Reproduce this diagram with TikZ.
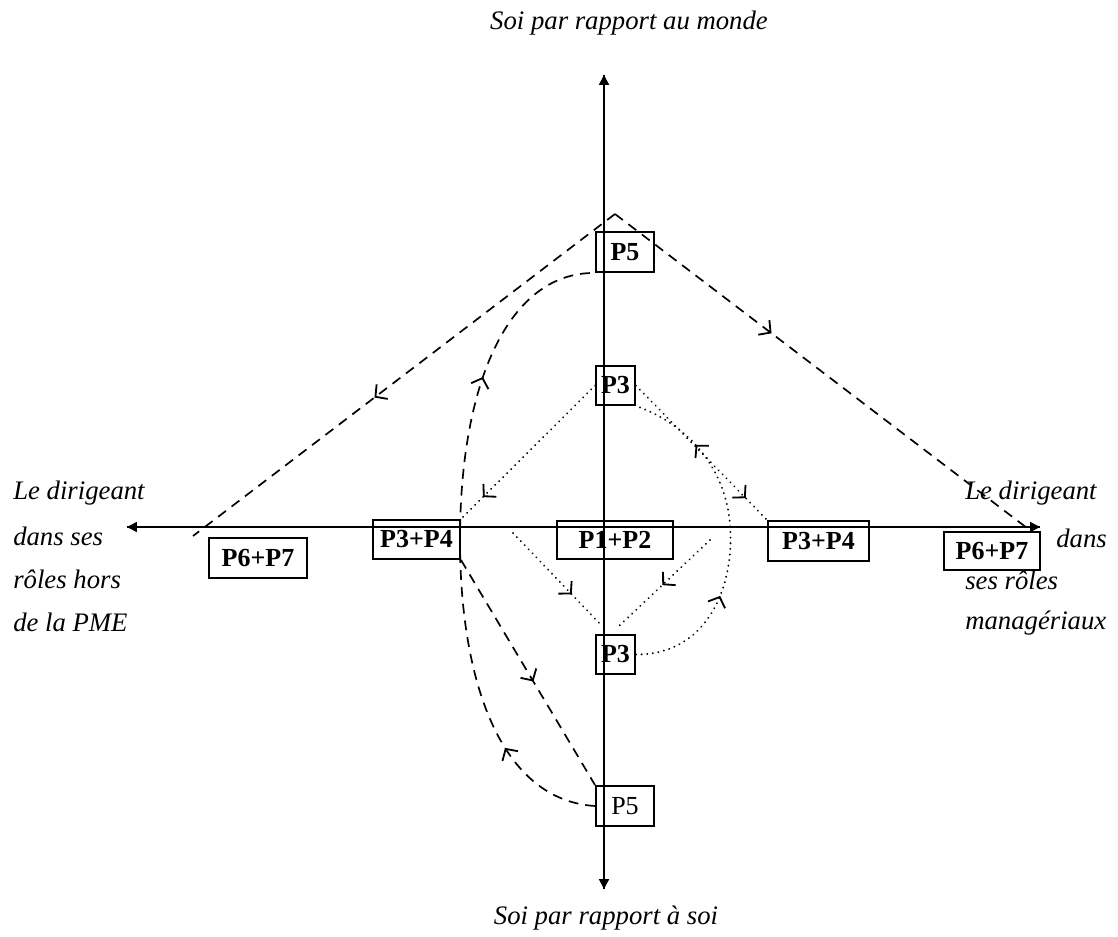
\documentclass[tikz,border=0pt]{standalone}
\usepackage{fontspec}
\setmainfont{Liberation Serif}
\usetikzlibrary{arrows.meta,decorations.markings,calc}
\begin{document}
\begin{tikzpicture}[x=0.025cm,y=-0.025cm,
  axis/.style={line width=1.4pt,-{Triangle[length=7pt,width=7pt]}},
  lbl/.style={font=\fontsize{19}{22}\selectfont\itshape,inner sep=0pt},
  box/.style={draw,line width=1.4pt,inner sep=0pt,font=\fontsize{18.5}{20}\selectfont\bfseries},
  boxr/.style={draw,line width=1.4pt,inner sep=0pt,font=\fontsize{18.5}{20}\selectfont},
  dsh/.style={line width=1.2pt,dash pattern=on 7pt off 5pt},
  dot/.style={line width=1.5pt,line cap=round,dash pattern=on 0.01pt off 4pt},
  tipmark/.style={postaction={decorate,decoration={markings,mark=at position #1 with {\arrow{Straight Barb[length=6pt,width=13pt,line width=1.3pt]}}}}}
]
\useasboundingbox (0,0) rectangle (1118,937);

% axis end points
\coordinate (vt) at (604,75);
\coordinate (vb) at (604,889);
\coordinate (hl) at (127,527);
\coordinate (hr) at (1040,527);

% labels
\node[lbl] (top) at (629,23) {Soi par rapport au monde};
\node[lbl] (bot) at (606,918) {Soi par rapport à soi};
\node[lbl,anchor=west] (l1) at (13,493) {Le dirigeant};
\node[lbl,anchor=west] (l2) at (13,536) {dans ses};
\node[lbl,anchor=west] (l3) at (13,579) {rôles hors};
\node[lbl,anchor=west] (l4) at (13,622) {de la PME};
\node[lbl,anchor=west] (r1) at (965,493) {Le dirigeant};
\node[lbl,anchor=west] (r2) at (1056,538) {dans};
\node[lbl,anchor=west] (r3) at (965,580) {ses rôles};
\node[lbl,anchor=west] (r4) at (965,623) {managériaux};

% axes
\draw[axis] (vb) -- (vt);
\draw[axis] (vt) -- (vb);
\draw[axis] (hr) -- (hl);
\draw[axis] (hl) -- (hr);

% boxes
\node[box,minimum width=58*0.025cm,minimum height=40*0.025cm] (p5t) at (625,252) {P5};
\node[box,minimum width=39*0.025cm,minimum height=39*0.025cm] (p3t) at (615.5,385.5) {P3};
\node[box,minimum width=87*0.025cm,minimum height=39*0.025cm] (p34l) at (416.5,539.5) {P3+P4};
\node[box,minimum width=98*0.025cm,minimum height=40*0.025cm] (p67l) at (258,558) {P6+P7};
\node[box,minimum width=116*0.025cm,minimum height=38*0.025cm] (p12) at (615,540) {P1+P2};
\node[box,minimum width=101*0.025cm,minimum height=40*0.025cm] (p34r) at (818.5,541) {P3+P4};
\node[box,fill=white,minimum width=96*0.025cm,minimum height=38*0.025cm] (p67r) at (992,551) {P6+P7};
\node[box,minimum width=39*0.025cm,minimum height=39*0.025cm] (p3b) at (615.5,654.5) {P3};
\node[boxr,minimum width=58*0.025cm,minimum height=40*0.025cm] (p5b) at (625,806) {P5};

% dashed triangle
\coordinate (apex) at (615,214);
\coordinate (lend) at (193,536);
\coordinate (rend) at (1027,528);
\draw[dsh,tipmark=0.57] (apex) -- (lend);
\draw[dsh,tipmark=0.38] (apex) -- (rend);

% dashed links
\draw[dsh,tipmark=0.54] (p34l.south east) -- (p5b.north west);
\draw[dsh,tipmark=0.17,tipmark=0.75] (p5b.west) .. controls (500,800) and (460,680) .. (460,540)
   .. controls (460,380) and (510,272) .. (p5t.south west);

% dotted links
\draw[dot,tipmark=0.84] (p3t.west) -- (p34l.north east);
\draw[dot,tipmark=0.84] (p3t.east) -- (p34r.north west);
\draw[dot,tipmark=0.32,tipmark=0.79] (p3b.east) .. controls (705,655) and (735,590) .. (730,525)
   .. controls (726,470) and (690,425) .. (p3t.south east);
\coordinate (c1) at (513,533);
\coordinate (c2) at (710,540);
\draw[dot,tipmark=0.66] (c1) -- ($(p3b.north west)+(7,-8)$);
\draw[dot,tipmark=0.52] (c2) -- ($(p3b.north east)+(-18,-7)$);
\end{tikzpicture}
\end{document}
